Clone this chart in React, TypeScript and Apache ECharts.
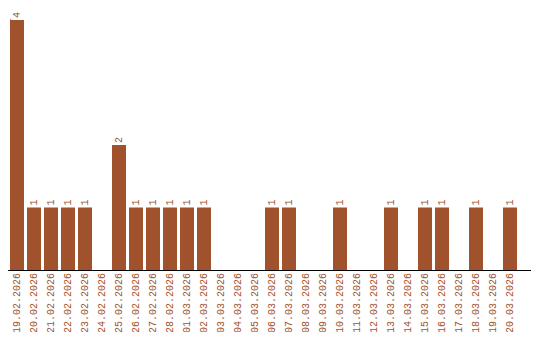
import React, { useEffect, useRef } from "react";
import * as echarts from "echarts";

const categories = [
  "19.02.2026", "20.02.2026", "21.02.2026", "22.02.2026", "23.02.2026",
  "24.02.2026", "25.02.2026", "26.02.2026", "27.02.2026", "28.02.2026",
  "01.03.2026", "02.03.2026", "03.03.2026", "04.03.2026", "05.03.2026",
  "06.03.2026", "07.03.2026", "08.03.2026", "09.03.2026", "10.03.2026",
  "11.03.2026", "12.03.2026", "13.03.2026", "14.03.2026", "15.03.2026",
  "16.03.2026", "17.03.2026", "18.03.2026", "19.03.2026", "20.03.2026",
];
const values = [4, 1, 1, 1, 1, 0, 2, 1, 1, 1, 1, 1, 0, 0, 0, 1, 1, 0, 0, 1, 0, 0, 1, 0, 1, 1, 0, 1, 0, 1];

const BROWN = "#a0522d";
const FONT = "Liberation Mono";

export default function App() {
  const ref = useRef<HTMLDivElement>(null);
  useEffect(() => {
    const chart = echarts.init(ref.current!, undefined, { renderer: "svg" });
    chart.setOption({
      animation: false,
      grid: { left: 8.5, width: 510, top: 20, bottom: 70 },
      xAxis: {
        type: "category",
        data: categories,
        axisLine: { show: true, lineStyle: { color: "#000", width: 1 } },
        axisTick: { show: false },
        axisLabel: {
          rotate: 90,
          interval: 0,
          color: BROWN,
          fontFamily: FONT,
          fontSize: 10,
          margin: 3,
        },
      },
      yAxis: {
        type: "value",
        min: 0,
        max: 4,
        offset: -1.5,
        axisLine: { show: true, lineStyle: { color: "#000", width: 1 } },
        axisTick: { show: false },
        axisLabel: { show: false },
        splitLine: { show: false },
      },
      graphic: [
        {
          type: "line",
          shape: { x1: 518, y1: 270.5, x2: 531, y2: 270.5 },
          style: { stroke: "#000", lineWidth: 1 },
        },
      ],
      series: [
        {
          type: "bar",
          data: values.map((v) => (v === 0 ? null : v)),
          barWidth: 14,
          itemStyle: { color: BROWN },
          label: {
            show: true,
            position: "top",
            rotate: 90,
            align: "left",
            verticalAlign: "middle",
            distance: 2,
            color: BROWN,
            fontFamily: FONT,
            fontSize: 10,
          },
        },
      ],
    });
    return () => chart.dispose();
  }, []);
  return <div ref={ref} style={{ width: 540, height: 340, margin: -8 }} />;
}
